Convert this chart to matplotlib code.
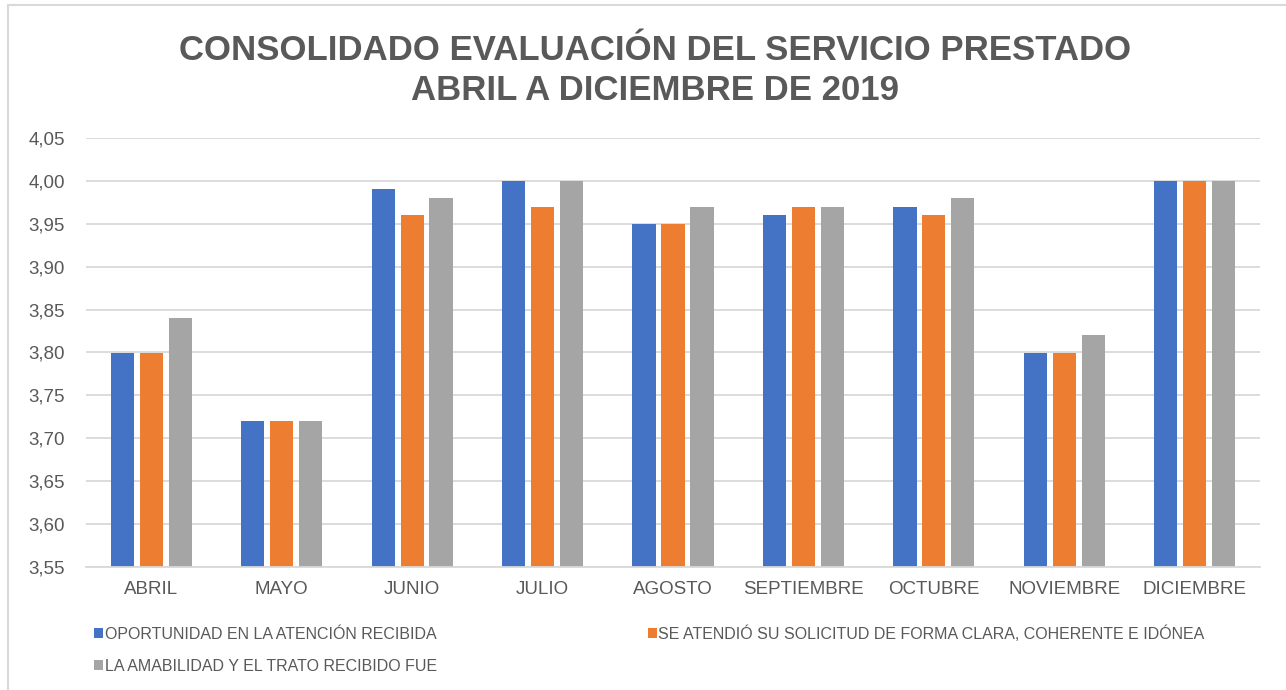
import matplotlib
matplotlib.use("Agg")
import matplotlib.pyplot as plt
from matplotlib.patches import Patch, Rectangle
from matplotlib.ticker import FuncFormatter, MultipleLocator
import numpy as np

plt.rcParams['font.family'] = ['Liberation Sans', 'DejaVu Sans']

months = ["ABRIL", "MAYO", "JUNIO", "JULIO", "AGOSTO", "SEPTIEMBRE", "OCTUBRE", "NOVIEMBRE", "DICIEMBRE"]
series_names = [
    "OPORTUNIDAD EN LA ATENCIÓN RECIBIDA",
    "SE ATENDIÓ SU SOLICITUD DE FORMA CLARA, COHERENTE E IDÓNEA",
    "LA AMABILIDAD Y EL TRATO RECIBIDO FUE",
]
oportunidad = [3.80, 3.72, 3.99, 4.00, 3.95, 3.96, 3.97, 3.80, 4.00]
solicitud = [3.80, 3.72, 3.96, 3.97, 3.95, 3.97, 3.96, 3.80, 4.00]
amabilidad = [3.84, 3.72, 3.98, 4.00, 3.97, 3.97, 3.98, 3.82, 4.00]
colors = ["#4472C4", "#ED7D31", "#A5A5A5"]

W, H = 1286, 690
fig = plt.figure(figsize=(W / 100, H / 100), dpi=100)
ax = fig.add_axes([86 / W, 1 - 567 / H, (1260 - 86) / W, (567 - 138) / H])

x = np.arange(len(months))
pitch = 0.222
bw = 0.178
handles = []
for k, (vals, c, name) in enumerate(zip([oportunidad, solicitud, amabilidad], colors, series_names)):
    ax.bar(x + (k - 1) * pitch, np.array(vals) - 3.55, bottom=3.55, width=bw, color=c, zorder=3)
    handles.append(Patch(facecolor=c, label=name))

ax.set_xlim(-0.5, len(months) - 0.5)
ax.set_ylim(3.55, 4.05)
ax.yaxis.set_major_locator(MultipleLocator(0.05))
ax.yaxis.set_major_formatter(FuncFormatter(lambda v, p: f"{v:.2f}".replace(".", ",")))
ax.set_xticks(x)
ax.set_xticklabels(months)
ax.tick_params(axis='both', length=0, labelsize=13.5, labelcolor="#595959")
ax.tick_params(axis='x', pad=10)
ax.tick_params(axis='y', pad=15)
ax.grid(axis='y', color="#D9D9D9", linewidth=1.3, zorder=0)
for s in ["top", "right", "left"]:
    ax.spines[s].set_visible(False)
ax.spines["bottom"].set_color("#D9D9D9")
ax.spines["bottom"].set_linewidth(1.3)
ax.spines["bottom"].set_zorder(4)

fig.text(655 / W, 1 - 51 / H, "CONSOLIDADO EVALUACIÓN DEL SERVICIO PRESTADO", ha="center", va="center",
         fontsize=25, fontweight="bold", color="#595959")
fig.text(655 / W, 1 - 90 / H, "ABRIL A DICIEMBRE DE 2019", ha="center", va="center",
         fontsize=25, fontweight="bold", color="#595959")

leg = fig.legend([handles[0], handles[2], handles[1]], [series_names[0], series_names[2], series_names[1]],
                 ncol=2, loc="upper left", bbox_to_anchor=(80 / W, 1 - 611 / H),
                 frameon=False, fontsize=11.5, labelcolor="#595959",
                 handlelength=0.55, handleheight=0.55, handletextpad=0.1,
                 columnspacing=13.2, labelspacing=1.05)

fig.patches.append(Rectangle((8 / W, -0.1), 1.2, 1.1 - 5 / H, transform=fig.transFigure,
                             fill=False, edgecolor="#D9D9D9", linewidth=1.5))

fig.savefig("out.png", dpi=100)
